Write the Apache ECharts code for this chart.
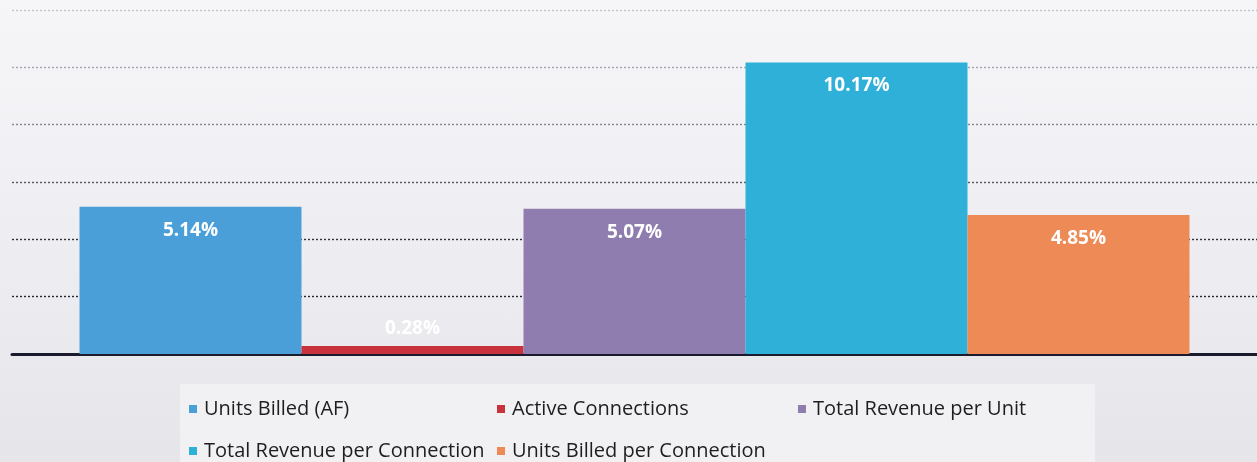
<!DOCTYPE html>
<html>
<head>
<meta charset="utf-8">
<script src="https://cdn.jsdelivr.net/npm/echarts@6/dist/echarts.min.js"></script>
<style>
  html, body { margin: 0; padding: 0; }
  body { background: linear-gradient(180deg, #f6f6f9 0%, #efeff3 45%, #e6e6ea 100%); }
  #chart { width: 1257px; height: 462px; }
</style>
</head>
<body>
<div id="chart"></div>
<script>
// Year-over-year change by metric (percent)
const seriesNames = [
  'Units Billed (AF)',
  'Active Connections',
  'Total Revenue per Unit',
  'Total Revenue per Connection',
  'Units Billed per Connection'
];
const seriesValues = [5.14, 0.28, 5.07, 10.17, 4.85];
const seriesColors = ['#4a9fd8', '#c8323c', '#8f7db0', '#2fb0d8', '#ee8a55'];
const categories = [''];

// Legend is laid out on a three-column grid
const legendSlots = [
  { left: 184, top: 394 },
  { left: 492, top: 394 },
  { left: 793, top: 394 },
  { left: 184, top: 436 },
  { left: 492, top: 436 }
];

const chart = echarts.init(document.getElementById('chart'), null, { renderer: 'canvas' });

const series = seriesNames.map((name, i) => ({
  name,
  type: 'bar',
  data: [seriesValues[i]],
  barWidth: 222,
  barGap: '0%',
  itemStyle: { color: seriesColors[i] },
  label: {
    show: true,
    position: seriesValues[i] < 1 ? 'top' : 'insideTop',
    distance: seriesValues[i] < 1 ? 8 : 14,
    color: '#ffffff',
    fontFamily: 'Open Sans',
    fontWeight: 'bold',
    fontSize: 19,
    formatter: p => p.value.toFixed(2) + '%'
  }
}));

const legends = seriesNames.map((name, i) => ({
  data: [name],
  left: legendSlots[i].left,
  top: legendSlots[i].top,
  icon: 'rect',
  itemWidth: 8,
  itemHeight: 8,
  itemGap: 0,
  selectedMode: false,
  textStyle: { color: '#1e1e1e', fontFamily: 'Open Sans', fontSize: 20, padding: [0, 0, 0, 2] }
}));

chart.setOption({
  backgroundColor: 'transparent',
  animation: false,
  graphic: [{
    type: 'rect',
    z: -1,
    shape: { x: 180, y: 384, width: 915, height: 78 },
    style: { fill: '#f1f1f4' }
  }],
  grid: { left: 12, right: 0, top: 10, bottom: 108 },
  legend: legends,
  xAxis: {
    type: 'category',
    data: categories,
    axisLine: { show: true, lineStyle: { color: '#1b1b2e', width: 3 } },
    axisTick: { show: false },
    axisLabel: { show: false }
  },
  yAxis: {
    type: 'value',
    min: 0,
    max: 12,
    interval: 2,
    axisLabel: { show: false },
    axisLine: { show: false },
    axisTick: { show: false },
    splitLine: {
      show: true,
      lineStyle: {
        type: [2, 2],
        width: 1.4,
        color: ['#1b1b2e', '#262630', '#30303a', '#55555e', '#85858e', '#a5a5ad', '#c4c4cc']
      }
    }
  },
  series
});
</script>
</body>
</html>
